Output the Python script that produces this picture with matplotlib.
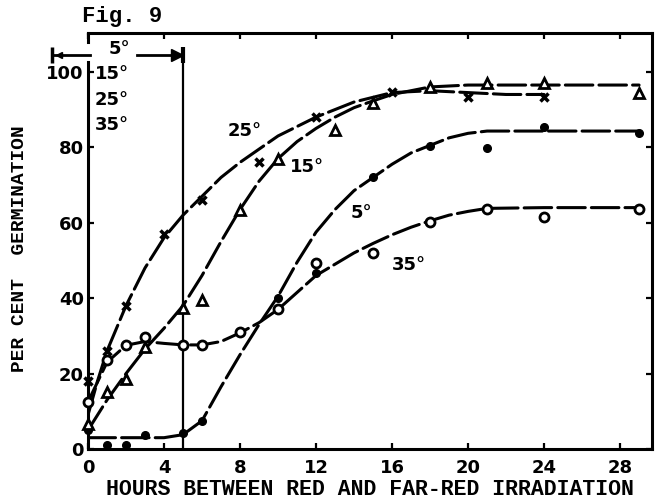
import numpy as np
import matplotlib
matplotlib.use("Agg")
import matplotlib.pyplot as plt

# germination data, hours between red and far-red
x5 = [0, 1, 2, 3, 5, 6, 10, 12, 15, 18, 21, 24, 29]
y5 = [5, 1, 1, 3.7, 4.2, 7.4, 40, 46.7, 72, 80.4, 79.8, 85.4, 83.8]

x15 = [0, 1, 2, 3, 5, 6, 8, 10, 13, 15, 18, 21, 24, 29]
y15 = [6.5, 15, 18.5, 27, 37.5, 39.5, 63.5, 77, 84.5, 91.7, 96, 97, 97, 94.4]

x25 = [0, 1, 2, 4, 6, 9, 12, 16, 20, 24]
y25 = [18, 26, 38, 57, 66, 76, 88, 94.7, 93.4, 93.4]

x35 = [0, 1, 2, 3, 5, 6, 8, 10, 12, 15, 18, 21, 24, 29]
y35 = [12.5, 23.6, 27.6, 29.7, 27.6, 27.6, 31, 37, 49.3, 52, 60.3, 63.6, 61.5, 63.6]

# hand-drawn trend curves
c5x = [0, 1, 2, 3, 4, 5, 6, 7, 8, 9, 10, 11, 12, 13, 14, 15, 16, 17, 18, 19, 20, 21, 24, 29]
c5y = [3, 3, 3, 3, 3, 3.8, 7.5, 16.5, 25, 33, 40.5, 49.5, 57.5, 63.5, 68.5, 72, 75.5, 78.5,
       80.5, 82.5, 83.7, 84.3, 84.3, 84.3]
c15x = [0, 1, 2, 3, 4, 5, 6, 7, 8, 9, 10, 11, 12, 13, 14, 15, 16, 18, 20, 24, 29]
c15y = [5, 13, 20, 26.5, 32, 38, 46, 55, 63.5, 71, 77, 81.5, 85, 88, 90.5, 92.3, 94, 96, 96.5, 96.5, 96.5]
c25x = [0, 0.5, 1, 2, 3, 4, 5, 6, 7, 8, 10, 12, 14, 16, 18, 20, 22, 24]
c25y = [9, 18, 26, 38, 48, 56, 62, 67, 72, 76, 83, 88, 92, 94.5, 95, 94.5, 94, 94]
c35x = [0, 1, 2, 3, 4, 5, 6, 7, 8, 9, 10, 11, 12, 13, 14, 15, 16, 17, 18, 19, 20, 21, 24, 29]
c35y = [12.5, 23, 27.5, 28.5, 28, 27.6, 27.6, 28.5, 30.8, 33.5, 37, 41.5, 46, 49, 52, 54.5,
        56.8, 58.8, 60.5, 62, 63, 63.8, 64, 64]

hand = {'family': 'DejaVu Sans', 'weight': 'bold'}
mono = {'family': 'Liberation Mono', 'weight': 'bold'}

fig = plt.figure(figsize=(6.55, 5.03), dpi=100)
ax = fig.add_axes([88/655, 54/503, 564/655, 416/503])

dash = (0, (9, 2))
for cx, cy in [(c5x, c5y), (c15x, c15y), (c25x, c25y), (c35x, c35y)]:
    ax.plot(cx, cy, color='black', lw=2.2, ls=dash, dash_capstyle='round', zorder=2)

ax.plot(x5, y5, 'o', color='black', ms=5.5, zorder=4, clip_on=False)
ax.plot(x15, y15, '^', mfc='white', mec='black', mew=2, ms=7, zorder=4, clip_on=False)
ax.plot(x25, y25, 'x', color='black', mew=2.5, ms=6, zorder=4, clip_on=False)
ax.plot(x35, y35, 'o', mfc='white', mec='black', mew=2, ms=6.5, zorder=4, clip_on=False)

# far-red at 5 hr marker
ax.plot([5, 5], [0, 104.5], color='black', lw=1.6, zorder=1, clip_on=False)
ax.plot([-1.9, 0.1], [104.5, 104.5], color='black', lw=2, clip_on=False)
ax.plot([2.6, 5], [104.5, 104.5], color='black', lw=2, clip_on=False)
ax.plot([-1.9], [104.5], '|', color='black', ms=12, mew=2.5, clip_on=False)
ax.plot([-1.55], [104.5], '<', color='black', ms=5, clip_on=False)
ax.plot([4.7], [104.5], '>', color='black', ms=8, clip_on=False)
ax.plot([5], [104.5], '|', color='black', ms=12, mew=3, clip_on=False)

ax.text(1.63, 106, '5°', fontsize=13, ha='center', va='center', **hand)
ax.text(0.35, 99.5, '15°', fontsize=13, ha='left', va='center', **hand)
ax.text(0.35, 92.6, '25°', fontsize=13, ha='left', va='center', **hand)
ax.text(0.35, 86, '35°', fontsize=13, ha='left', va='center', **hand)

ax.text(8.26, 84.3, '25°', fontsize=13, ha='center', va='center', **hand)
ax.text(11.5, 74.8, '15°', fontsize=13, ha='center', va='center', **hand)
ax.text(14.4, 62.6, '5°', fontsize=13, ha='center', va='center', **hand)
ax.text(16.9, 48.8, '35°', fontsize=13, ha='center', va='center', **hand)

ax.set_xlim(0, 29.68)
ax.set_ylim(0, 110.3)
ax.set_xticks(range(0, 29, 4))
ax.set_yticks(range(0, 101, 20))
for s in ax.spines.values():
    s.set_linewidth(2.2)
ax.spines['left'].set_bounds(0, 102.5)
ax.plot([0, 0], [107.8, 110.3], color='black', lw=2.2, clip_on=False)

ax.tick_params(direction='in', length=4, width=1.6, top=True, right=True, labelsize=13)
ax.tick_params(axis='x', pad=7)
ax.tick_params(axis='y', pad=3)
for lab in ax.get_xticklabels() + ax.get_yticklabels():
    lab.set_fontweight('bold')

fig.text(82/655, 0.968, 'Fig. 9', fontsize=16, ha='left', va='center', **mono)
fig.text(0.565, 0.026, 'HOURS BETWEEN RED AND FAR-RED IRRADIATION', fontsize=15.5,
         ha='center', va='center', **mono)
fig.text(20/655, 0.505, 'PER CENT  GERMINATION', fontsize=14, rotation=90,
         ha='center', va='center', **mono)

fig.savefig('out.png', dpi=100)
